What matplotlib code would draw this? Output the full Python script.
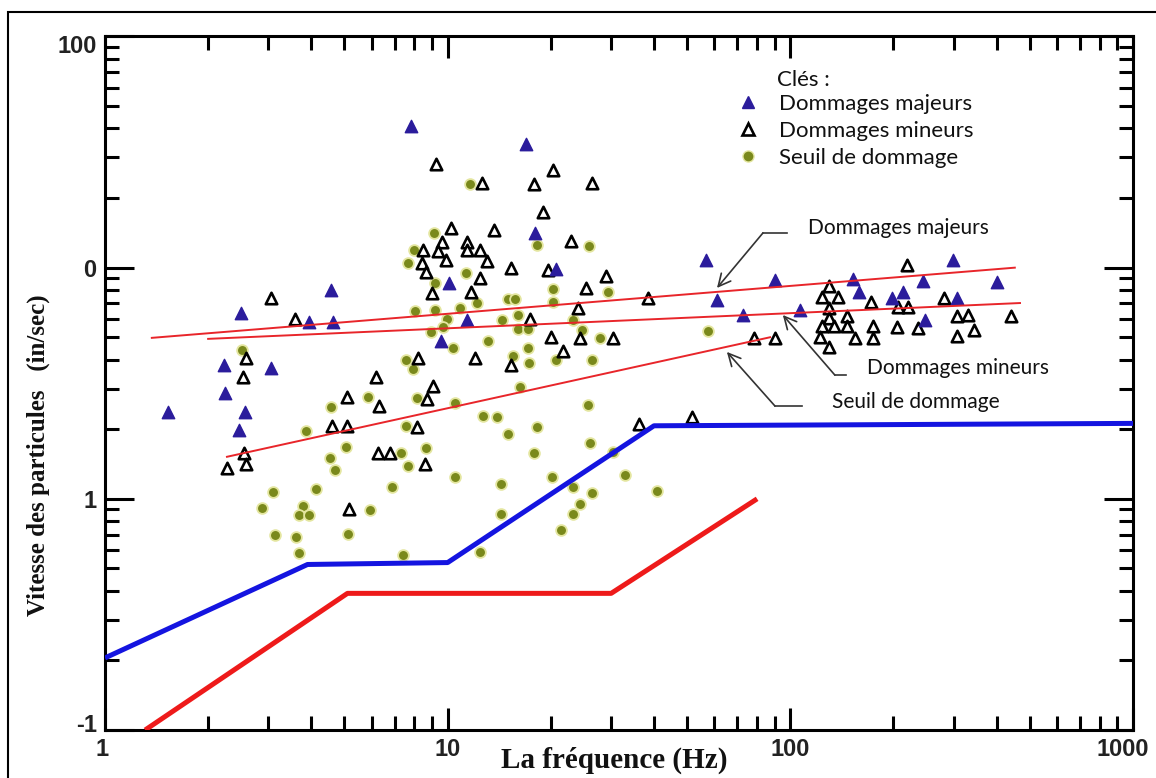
import matplotlib.pyplot as plt
from matplotlib.lines import Line2D
from matplotlib.patches import Rectangle
from matplotlib.ticker import FixedLocator, FixedFormatter, LogLocator, NullFormatter
from matplotlib.transforms import ScaledTranslation

# frequence (Hz) et vitesse (in/sec) des releves
maj_f = [7.81, 16.9, 1.53, 2.49, 4.56, 3.94, 4.63, 2.23, 3.05, 2.24, 2.56, 2.46,
         10.1, 9.56, 18.0, 20.7, 11.4, 56.7, 61.1, 72.7, 90.2, 152, 159, 244,
         298, 401, 198, 213, 306, 107, 247]
maj_v = [41.0, 34.3, 2.38, 6.37, 8.01, 5.82, 5.82, 3.80, 3.68, 2.87, 2.38, 1.99,
         8.59, 4.82, 14.1, 9.87, 5.94, 10.8, 7.25, 6.24, 8.85, 8.93, 7.85, 8.76,
         10.8, 8.67, 7.40, 7.85, 7.40, 6.56, 5.94]

min_f = [3.05, 3.58, 2.58, 2.53, 6.18, 5.08, 6.30, 4.60, 5.08, 2.54, 2.27, 2.58,
         6.26, 6.79, 8.59, 8.19, 9.06, 8.70, 8.14, 5.15,
         9.24, 12.6, 17.9, 20.3, 26.4, 19.0, 10.2, 13.7, 9.62, 8.47, 9.37, 11.4,
         11.4, 12.4, 8.41, 9.89, 13.0, 8.65, 15.3, 22.9, 19.6, 12.4, 9.00, 11.7,
         25.3, 29.0, 38.4, 24.0, 17.4, 20.0, 24.3, 30.4, 21.7, 12.0, 15.3, 36.2,
         51.6, 78.3, 90.2,
         219, 130, 124, 138, 172, 130, 206, 220, 281, 130, 146, 124, 134, 146,
         174, 205, 236, 306, 330, 440, 122, 154, 174, 306, 343, 130]
min_v = [7.40, 6.00, 4.07, 3.37, 3.37, 2.76, 2.52, 2.07, 2.07, 1.58, 1.36, 1.42,
         1.58, 1.58, 1.42, 4.07, 3.08, 2.71, 2.05, 0.904,
         28.1, 23.3, 23.0, 26.5, 23.3, 17.4, 14.9, 14.6, 12.9, 11.9, 11.8, 12.9,
         11.9, 11.9, 10.5, 10.8, 10.7, 9.58, 9.97, 13.1, 9.77, 9.03, 7.77, 7.85,
         8.17, 9.21, 7.40, 6.69, 6.00, 5.01, 4.97, 4.97, 4.36, 4.07, 3.80, 2.11,
         2.26, 4.97, 4.97,
         10.3, 8.33, 7.47, 7.47, 7.11, 6.69, 6.76, 6.76, 7.40, 6.06, 6.18, 5.60,
         5.60, 5.60, 5.60, 5.54, 5.49, 6.18, 6.24, 6.18, 5.01, 4.97, 4.97, 5.07,
         5.38, 4.54]

seuil_f = [11.6, 9.12, 7.98, 7.66, 18.2, 25.8, 9.18, 11.3, 20.3, 29.4, 15.0, 15.7,
           12.2, 20.3, 10.9, 8.03, 9.18, 16.0, 14.4, 9.95, 23.2, 9.69, 8.94, 16.0,
           17.2, 24.7, 13.1, 27.8, 10.4, 17.2, 15.5, 20.7, 26.4, 7.55, 7.92, 17.3,
           2.51, 5.85, 4.56, 8.14, 10.5, 25.7, 16.3, 3.86, 7.55, 12.7, 13.9, 18.2,
           15.0, 26.0, 5.05, 8.65, 7.31, 17.9, 30.4, 4.54, 7.66, 4.69, 10.5, 20.2,
           32.9, 6.88, 14.3, 23.2, 3.09, 4.13, 40.8, 26.4, 2.87, 3.78, 3.68, 3.94,
           5.93, 24.3, 14.3, 23.2, 3.13, 3.61, 5.12, 21.4, 3.68, 7.41, 12.4, 57.5]
seuil_v = [23.0, 14.1, 11.9, 10.5, 12.5, 12.4, 8.59, 9.49, 8.09, 7.85, 7.32, 7.32,
           7.04, 7.11, 6.69, 6.50, 6.56, 6.24, 5.94, 6.00, 5.94, 5.54, 5.27, 5.43,
           5.43, 5.38, 4.82, 4.97, 4.49, 4.49, 4.15, 3.99, 3.99, 3.99, 3.65, 3.87,
           4.41, 2.76, 2.50, 2.73, 2.60, 2.55, 3.05, 1.97, 2.07, 2.28, 2.26, 2.05,
           1.91, 1.75, 1.68, 1.66, 1.58, 1.58, 1.60, 1.50, 1.39, 1.33, 1.24, 1.24,
           1.27, 1.13, 1.16, 1.13, 1.07, 1.10, 1.08, 1.06, 0.913, 0.93, 0.852, 0.852,
           0.895, 0.95, 0.86, 0.86, 0.698, 0.684, 0.705, 0.734, 0.583, 0.572, 0.589, 5.32]

# droites de tendance
fit_maj_f, fit_maj_v = [1.37, 452], [4.97, 10.0]
fit_min_f, fit_min_v = [2.0, 468], [4.92, 7.03]
fit_seuil_f, fit_seuil_v = [2.27, 87.3], [1.52, 5.0]

# courbes limites
blue_f, blue_v = [1, 3.9, 10, 40, 1000], [0.205, 0.52, 0.53, 2.07, 2.12]
red_f, red_v = [1.31, 5.1, 30, 80], [0.1, 0.39, 0.39, 1.0]

x_ticks = [1, 10, 100, 1000]
x_labels = ['1', '10', '100', '1000']
y_ticks = [0.1, 1, 10, 100]
y_labels = ['-1', '1', '0', '100']

navy = '#2b1c9c'
olive = '#7a891c'
thin_red = '#e8252a'

fig = plt.figure(figsize=(11.56, 7.78), dpi=100)
ax = fig.add_axes([0.0908, 0.0617, 0.8893, 0.8914])
ax.set_xscale('log')
ax.set_yscale('log')
ax.set_xlim(1, 1000)
ax.set_ylim(0.1, 100)

ax.scatter(seuil_f, seuil_v, s=60, marker='o', color=olive,
           edgecolors='#e4e6a0', linewidths=1.3, zorder=3)
ax.scatter(min_f, min_v, s=68, marker='^', facecolors='white',
           edgecolors='black', linewidths=1.9, zorder=4)
ax.scatter(maj_f, maj_v, s=80, marker='^', color=navy, zorder=5)

ax.plot(fit_maj_f, fit_maj_v, color=thin_red, lw=1.4, zorder=6)
ax.plot(fit_min_f, fit_min_v, color=thin_red, lw=1.4, zorder=6)
ax.plot(fit_seuil_f, fit_seuil_v, color=thin_red, lw=1.4, zorder=6)
ax.plot(blue_f, blue_v, color='#1414e0', lw=3.6, zorder=6, solid_capstyle='butt')
ax.plot(red_f, red_v, color='#ee1a1a', lw=3.6, zorder=6, solid_capstyle='butt')

# graduations
ax.xaxis.set_major_locator(FixedLocator(x_ticks))
ax.xaxis.set_major_formatter(FixedFormatter(x_labels))
ax.yaxis.set_major_locator(FixedLocator(y_ticks))
ax.yaxis.set_major_formatter(FixedFormatter(y_labels))
for a in (ax.xaxis, ax.yaxis):
    a.set_minor_locator(LogLocator(base=10, subs=range(2, 10)))
    a.set_minor_formatter(NullFormatter())
ax.tick_params(which='both', direction='in', top=True, right=True, width=2.2,
               color='black')
ax.tick_params(axis='x', which='major', length=16, pad=6)
ax.tick_params(axis='y', which='major', length=21, pad=6)
ax.tick_params(which='minor', length=10)
for lab in ax.get_xticklabels() + ax.get_yticklabels():
    lab.set_fontfamily('Liberation Sans')
    lab.set_fontweight('bold')
    lab.set_fontsize(17)
    lab.set_color('#222222')
for s in ax.spines.values():
    s.set_linewidth(2.2)

# les libelles extremes sont ramenes vers l'interieur
fig.canvas.draw()
ylabs = ax.get_yticklabels()
xlabs = ax.get_xticklabels()
shifts = [(ylabs[0], 0, 7), (ylabs[-1], 0, -8), (xlabs[0], -3, 0), (xlabs[-1], -10, 0)]
for lab, dx, dy in shifts:
    lab.set_transform(lab.get_transform() +
                      ScaledTranslation(dx / 100, dy / 100, fig.dpi_scale_trans))

fig.text(0.5315, 0.023, 'La fréquence (Hz)', family='Liberation Serif',
         weight='bold', size=21, ha='center', va='center', color='#111111')
fig.text(0.033, 0.415, 'Vitesse des particules   (in/sec)', family='Liberation Serif',
         weight='bold', size=18, rotation=90, ha='center', va='center', color='#111111')

# cles
txt = dict(family='Lato', size=15, color='#111111')
ax.text(0.6537, 0.937, 'Clés :', transform=ax.transAxes, va='center',
        family='Lato', size=16, color='#111111')
handles = [Line2D([], [], ls='none', marker='^', color=navy, markersize=9),
           Line2D([], [], ls='none', marker='^', markerfacecolor='white',
                  markeredgecolor='black', markeredgewidth=1.9, markersize=8.5),
           Line2D([], [], ls='none', marker='o', color=olive,
                  markeredgecolor='#e4e6a0', markersize=8)]
leg = ax.legend(handles, ['Dommages majeurs', 'Dommages mineurs', 'Seuil de dommage'],
                loc='center left', bbox_to_anchor=(0.616, 0.8637), frameon=False,
                borderpad=0, borderaxespad=0, handlelength=0.9, handletextpad=0.95,
                labelspacing=0.32, prop={'family': 'Lato', 'size': 16})
for t in leg.get_texts():
    t.set_color('#111111')

# fleches de reperes
arrow = dict(arrowstyle='->', color='#333333', lw=1.2,
             mutation_scale=22, shrinkA=0, shrinkB=0)
notes = [('Dommages majeurs', (61.1, 8.17), (83.2, 14.13), 97.8, (112.6, 14.85)),
         ('Dommages mineurs', (95.1, 6.24), (134.9, 3.43), 145.3, (167.3, 3.68)),
         ('Seuil de dommage', (65.3, 4.32), (90.2, 2.52), 108.1, (132.2, 2.63))]
for label, tip, elbow, end_x, pos in notes:
    ax.annotate('', xy=tip, xytext=elbow, arrowprops=arrow, zorder=7)
    ax.plot([elbow[0], end_x], [elbow[1], elbow[1]], color='#333333', lw=1.2, zorder=7)
    ax.text(pos[0], pos[1], label, va='center', ha='left', **txt)

fig.add_artist(Rectangle((8 / 1156, -0.1), 1.2, 1 - 12 / 778 + 0.1,
                         transform=fig.transFigure, fill=False, lw=1.5,
                         edgecolor='black'))

fig.savefig('out.png', dpi=100)
